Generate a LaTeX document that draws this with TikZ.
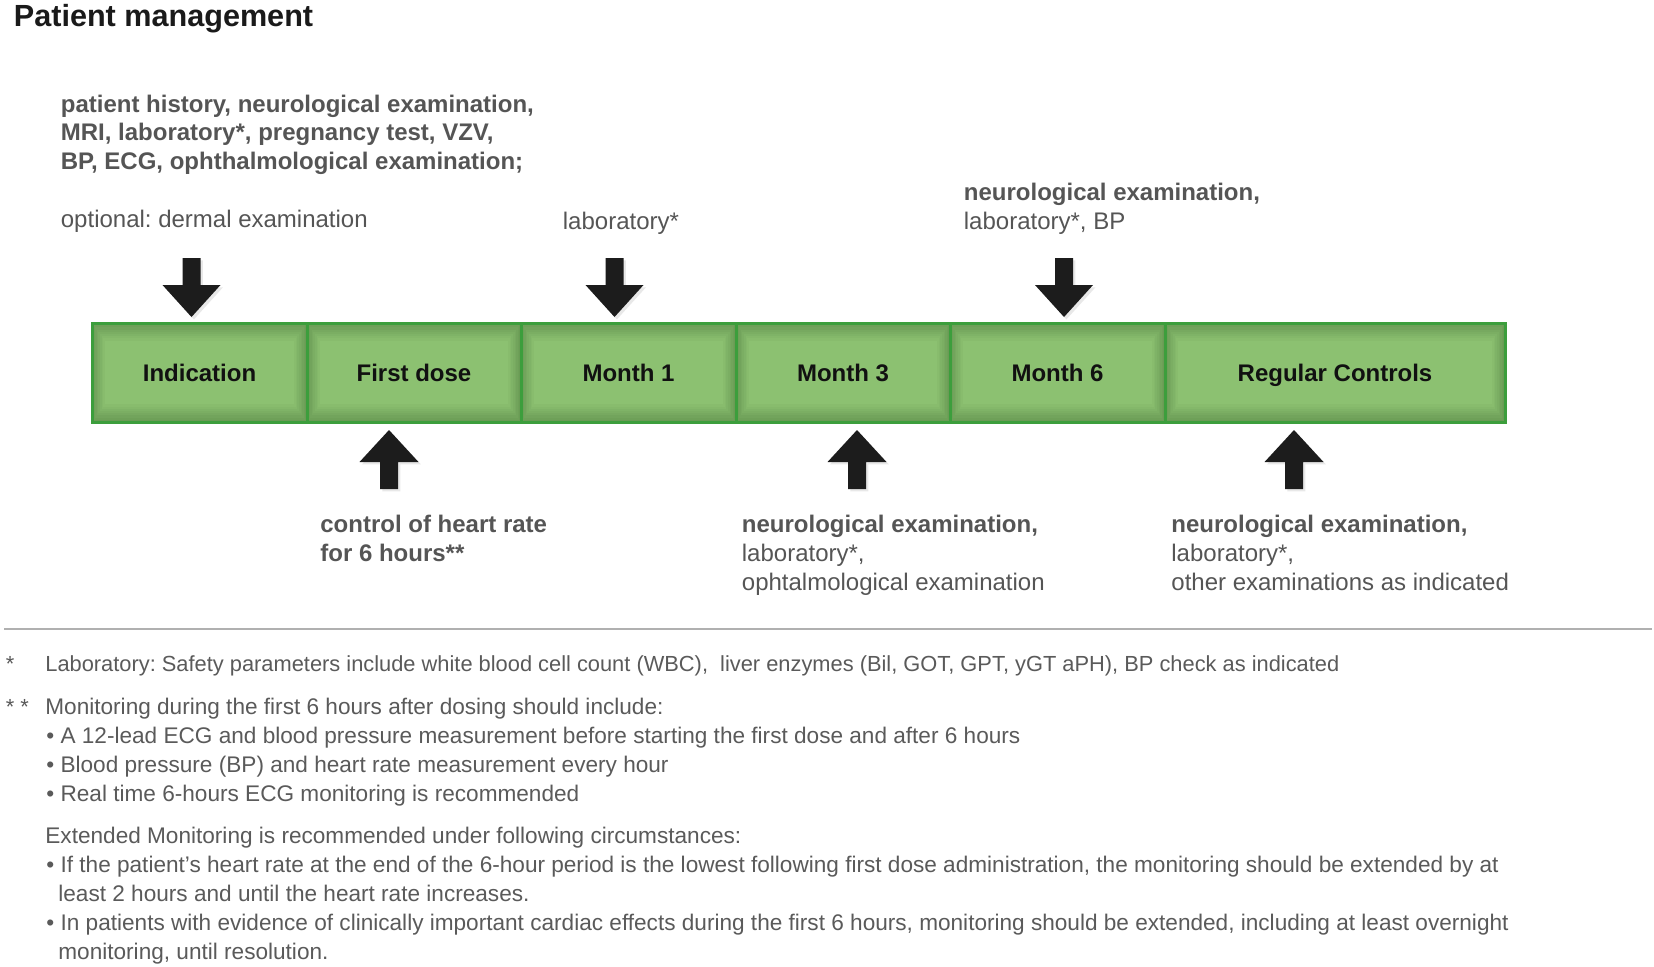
\documentclass[tikz,border=0pt]{standalone}
\usepackage{fontspec}
\setmainfont{Liberation Sans}
\frenchspacing
\usetikzlibrary{shadows}
\definecolor{titlecol}{HTML}{1A1A1A}
\definecolor{lblgray}{HTML}{555555}
\definecolor{fngray}{HTML}{5A5A5A}
\definecolor{cellmid}{HTML}{8CC171}
\definecolor{celldark}{HTML}{6A9B55}
\definecolor{cellborder}{HTML}{3C9E3C}
\definecolor{celltext}{HTML}{111111}
\definecolor{arrowcol}{HTML}{1C1C1C}
\definecolor{rulecol}{HTML}{B0B0B0}
\tikzset{
  cellbox/.style={draw=cellborder, line width=1.5pt, fill=cellmid, minimum height=49.5pt,
    inner sep=0pt, text=celltext, font=\bfseries\fontsize{12pt}{14pt}\selectfont,
    text height=11pt, text depth=1.8pt,
    path picture={
      \foreach \k in {0,...,8}{
        \pgfmathsetmacro\pc{100-12.5*\k}
        \fill[celldark!\pc!cellmid]
          ([xshift=\k*0.8pt, yshift=-\k*1.1pt]path picture bounding box.north west)
          rectangle ([xshift=-\k*0.8pt, yshift=\k*1.1pt]path picture bounding box.south east);
      }
    }},
  arrshadow/.style={drop shadow={shadow xshift=1.2pt, shadow yshift=-1.2pt, opacity=0.18}},
  downarr/.pic={\fill[arrowcol, arrshadow] (-9,0) -- (9,0) -- (9,27) -- (29,27) -- (0,59) -- (-29,27) -- (-9,27) -- cycle;},
  uparr/.pic={\fill[arrowcol, arrshadow] (0,0) -- (29.5,32) -- (9,32) -- (9,59) -- (-9,59) -- (-9,32) -- (-29.5,32) -- cycle;},
  lbl/.style={anchor=base west, inner sep=0pt, text=lblgray, font=\fontsize{12pt}{14pt}\selectfont},
  lblb/.style={lbl, font=\bfseries\fontsize{12pt}{14pt}\selectfont},
  fn/.style={anchor=base west, inner sep=0pt, text=fngray, font=\fontsize{11.3pt}{13pt}\selectfont},
  fnA/.style={fn, font=\fontsize{10.92pt}{13pt}\selectfont},
  ttl/.style={anchor=base west, inner sep=0pt, text=titlecol, font=\bfseries\fontsize{15.3pt}{18pt}\selectfont}
}
\begin{document}
\begin{tikzpicture}[x=0.5pt,y=-0.5pt]
\fill[white] (0,0) rectangle (1654,966);
\useasboundingbox (0,0) rectangle (1654,966);

\node[ttl] (title) at (13.5,26) {Patient management};

% timeline cells
\node[cellbox, minimum width=107.5pt] (c1) at (199.5,372.5) {Indication};
\node[cellbox, minimum width=107pt] (c2) at (414,372.5) {First dose};
\node[cellbox, minimum width=107.5pt] (c3) at (628.5,372.5) {Month 1};
\node[cellbox, minimum width=107pt] (c4) at (843,372.5) {Month 3};
\node[cellbox, minimum width=107.5pt] (c5) at (1057.5,372.5) {Month 6};
\node[cellbox, minimum width=170pt] (c6) at (1335,372.5) {Regular Controls};

% arrows
\pic (a1) at (191.5,258) {downarr};
\pic (a3) at (614.5,258) {downarr};
\pic (a5) at (1064,258) {downarr};
\pic (a2) at (389,430) {uparr};
\pic (a4) at (857,430) {uparr};
\pic (a6) at (1294,430) {uparr};

% top labels
\node[lblb] (t1a) at (60.5,112) {patient history, neurological examination,};
\node[lblb] (t1b) at (60.5,140.5) {MRI, laboratory*, pregnancy test, VZV,};
\node[lblb] (t1c) at (60.5,169) {BP, ECG, ophthalmological examination;};
\node[lbl] (t1d) at (60.5,227) {optional: dermal examination};
\node[lbl] (t3a) at (562.5,229) {laboratory*};
\node[lblb] (t5a) at (963.5,200) {neurological examination,};
\node[lbl] (t5b) at (963.5,229) {laboratory*, BP};

% bottom labels
\node[lblb] (b2a) at (320,532.7) {control of heart rate};
\node[lblb] (b2b) at (320,561.5) {for 6 hours**};
\node[lblb] (b4a) at (741.5,532.7) {neurological examination,};
\node[lbl] (b4b) at (741.5,561.5) {laboratory*,};
\node[lbl] (b4c) at (741.5,590) {ophtalmological examination};
\node[lblb] (b6a) at (1171,532.7) {neurological examination,};
\node[lbl] (b6b) at (1171,561.5) {laboratory*,};
\node[lbl] (b6c) at (1171,590) {other examinations as indicated};

% rule
\coordinate (rl) at (4,629);
\coordinate (rr) at (1652,629);
\draw[rulecol, line width=1.1pt] (rl) -- (rr);

% footnotes
\node[fnA] (f1m) at (5.5,671.5) {*};
\node[fnA] (f1) at (45,671.5) {Laboratory: Safety parameters include white blood cell count (WBC), \ liver enzymes (Bil, GOT, GPT, yGT aPH), BP check as indicated};
\node[fnA] (f2m) at (5.5,714) {* *};
\node[fn] (f2) at (45,714) {Monitoring during the first 6 hours after dosing should include:};
\node[fn] (f3) at (46,743) {• A 12-lead ECG and blood pressure measurement before starting the first dose and after 6 hours};
\node[fn] (f4) at (46,772) {• Blood pressure (BP) and heart rate measurement every hour};
\node[fn] (f5) at (46,801) {• Real time 6-hours ECG monitoring is recommended};
\node[fn] (f6) at (45,843) {Extended Monitoring is recommended under following circumstances:};
\node[fn] (f7) at (46,872) {• If the patient’s heart rate at the end of the 6-hour period is the lowest following first dose administration, the monitoring should be extended by at};
\node[fn] (f8) at (58,901) {least 2 hours and until the heart rate increases.};
\node[fn] (f9) at (46,930) {• In patients with evidence of clinically important cardiac effects during the first 6 hours, monitoring should be extended, including at least overnight};
\node[fn] (f10) at (58,959) {monitoring, until resolution.};
\end{tikzpicture}
\end{document}
